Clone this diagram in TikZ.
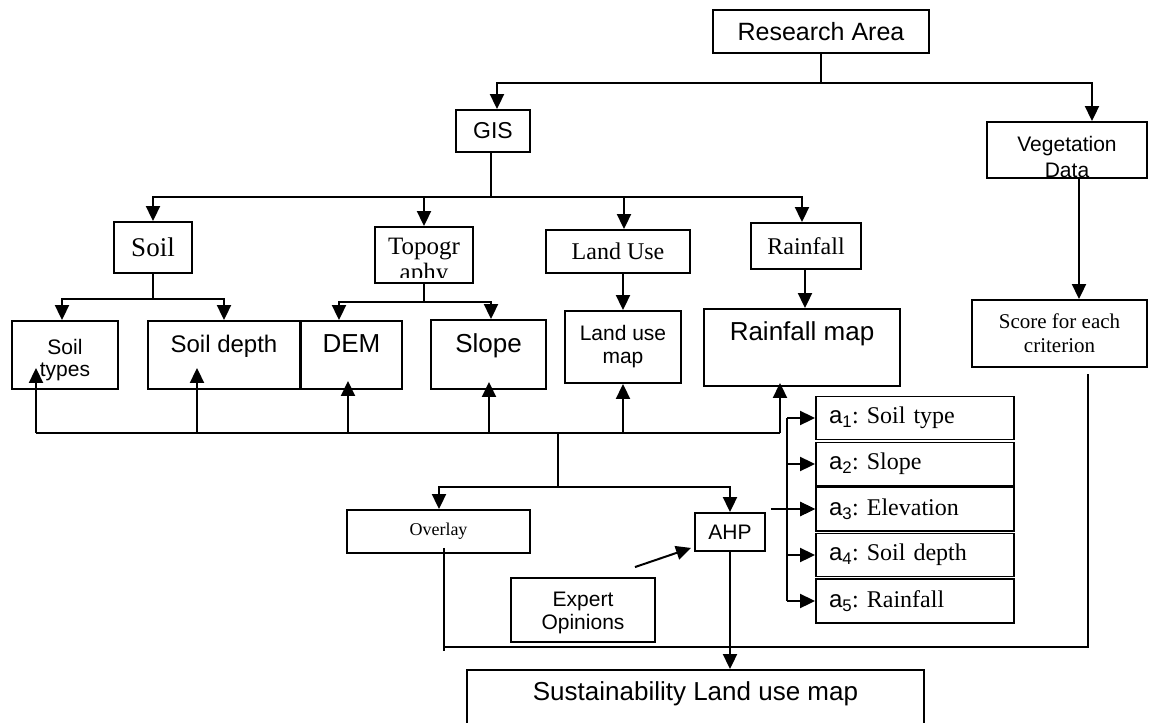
\documentclass[tikz,border=0pt]{standalone}
\usepackage{fontspec}
\setmainfont{Liberation Serif}
\setsansfont{Liberation Sans}
\usetikzlibrary{arrows.meta,calc}
\newcommand\myfs[2]{\fontsize{#1}{#2}\selectfont}
\frenchspacing
\begin{document}
\begin{tikzpicture}[x=1pt,y=-1pt,
  box/.style={draw,line width=1.9pt,inner sep=0pt,align=center},
  ln/.style={line width=2pt},
  arr/.style={line width=2pt,-{Triangle[length=15pt,width=14pt]}},
  abox/.style={box,text width=172pt,inner xsep=13pt,minimum height=43pt,align=left,font=\rmfamily\myfs{24}{26}},
  inner/.style={draw=none,fill=none,inner sep=0pt,align=center}]
\useasboundingbox (0,0) rectangle (1149,723);

% ---------- nodes ----------
\node[box,minimum width=216pt,minimum height=43pt,font=\sffamily\myfs{25}{28}] (RA) at (821,31.5) {Research Area};
\node[box,minimum width=74pt,minimum height=42pt,font=\sffamily\myfs{23}{26}] (GIS) at (493,131) {GIS};
\node[box,minimum width=160pt,minimum height=56pt,path picture={
   \clip ($(path picture bounding box.north west)$) rectangle ($(path picture bounding box.south east)+(0,-1)$);
   \node[inner,font=\sffamily\myfs{21}{26}] at ($(path picture bounding box.center)+(0,7)$) {Vegetation\\Data};}] (Veg) at (1067,150) {};

\node[box,minimum width=78pt,minimum height=51pt,font=\rmfamily\myfs{27}{30}] (Soil) at (153,247.5) {Soil};
\node[box,minimum width=98pt,minimum height=56pt,path picture={
   \clip ($(path picture bounding box.north west)$) rectangle ($(path picture bounding box.south east)+(0,-6)$);
   \node[inner,font=\rmfamily\myfs{25}{26}] at ($(path picture bounding box.center)+(0,7)$) {Topogr\\aphy};}] (Topo) at (424,255) {};
\node[box,minimum width=144pt,minimum height=43pt,font=\rmfamily\myfs{24}{26}] (LandUse) at (618,251.5) {Land Use};
\node[box,minimum width=110pt,minimum height=46pt,font=\rmfamily\myfs{24}{26}] (Rainfall) at (806,246) {Rainfall};

\node[box,minimum width=106pt,font=\sffamily\myfs{21}{22},text height=55pt,text depth=13pt] (SoilTypes) at (65,355) {Soil\\types};
\node[box,minimum width=152pt,text height=31pt,text depth=37pt,font=\sffamily\myfs{24}{26}] (SoilDepth) at (224,355) {Soil depth};
\node[box,minimum width=101pt,text height=31pt,text depth=37pt,font=\sffamily\myfs{26}{28}] (DEM) at (351.5,355) {DEM};
\node[box,minimum width=115pt,text height=32pt,text depth=37pt,font=\sffamily\myfs{26}{28}] (Slope) at (488.5,354.5) {Slope};
\node[box,minimum width=116pt,minimum height=72pt,font=\sffamily\myfs{21}{23}] (LUmap) at (623,347) {Land use\\map};
\node[box,minimum width=196pt,text height=31pt,text depth=46pt,font=\sffamily\myfs{26}{28}] (Rmap) at (802,347.5) {Rainfall map};
\node[box,minimum width=175pt,minimum height=67pt,font=\rmfamily\myfs{21}{24}] (Score) at (1059.5,333.5) {Score for each\\criterion};

\node[abox] (a1) at (915,418) {{\sffamily a\textsubscript{1}}: Soil type};
\node[abox] (a2) at (915,464) {{\sffamily a\textsubscript{2}}: Slope};
\node[abox,minimum height=44pt] (a3) at (915,509) {{\sffamily a\textsubscript{3}}: Elevation};
\node[abox] (a4) at (915,555) {{\sffamily a\textsubscript{4}}: Soil depth};
\node[abox,minimum height=44pt] (a5) at (915,601) {{\sffamily a\textsubscript{5}}: Rainfall};

\node[box,minimum width=183pt,minimum height=43pt,font=\rmfamily\myfs{18}{20}] (Overlay) at (438.5,531.5) {Overlay};
\node[box,minimum width=70pt,minimum height=38pt,font=\sffamily\myfs{21}{23}] (AHP) at (730,532) {AHP};
\node[box,minimum width=144pt,minimum height=64pt,path picture={
   \clip ($(path picture bounding box.north west)$) rectangle ($(path picture bounding box.south east)+(0,-9)$);
   \node[inner,font=\sffamily\myfs{21}{23}] at ($(path picture bounding box.center)+(0,3)$) {Expert\\Opinions};}] (Expert) at (583,610) {};
\node[box,minimum width=457pt,text height=30pt,text depth=40pt,font=\sffamily\myfs{26}{28}] (Sust) at (695.5,705) {Sustainability Land use map};

% ---------- connectors ----------
\coordinate (j1) at (821,83);
\draw[ln] (RA.south) -- (RA.south |- j1);
\draw[arr] (RA.south |- j1) -| ($(GIS.north)+(4,0)$);
\draw[arr] (RA.south |- j1) -| ($(Veg.north)+(25,0)$);

\coordinate (j2) at (491,197);
\draw[ln] ($(GIS.south)+(-2,0)$) -- ($(GIS.south |- j2)+(-2,0)$);
\draw[arr] ($(GIS.south |- j2)+(-2,0)$) -| (Soil.north);
\draw[arr] ($(GIS.south |- j2)+(-2,0)$) -| (Topo.north);
\draw[arr] ($(GIS.south |- j2)+(-2,0)$) -| ($(LandUse.north)+(6,0)$);
\draw[arr] ($(GIS.south |- j2)+(-2,0)$) -| ($(Rainfall.north)+(-4,0)$);

\coordinate (js) at (153,299);
\draw[ln] (Soil.south) -- (Soil.south |- js);
\draw[arr] (Soil.south |- js) -| ($(SoilTypes.north)+(-3,0)$);
\draw[arr] (Soil.south |- js) -| (SoilDepth.north);

\coordinate (jt) at (425,302);
\draw[ln] (Topo.south) -- (Topo.south |- jt);
\draw[arr] (Topo.south |- jt) -| ($(DEM.north)+(-12.5,0)$);
\draw[arr] (Topo.south |- jt) -| ($(Slope.north)+(2.5,0)$);

\draw[arr] (LUmap.north |- LandUse.south) -- (LUmap.north);
\draw[arr] ($(Rainfall.south)+(-1,0)$) -- ($(Rainfall.south |- Rmap.north)+(-1,0)$);
\draw[arr] ($(Veg.south)+(12,0)$) -- ($(Veg.south |- Score.north)+(12,0)$);

\coordinate (j3) at (558,433);
\coordinate (tST) at ($(SoilTypes.south)+(-29,-22)$);
\coordinate (tSD) at ($(SoilDepth.south)+(-27,-22)$);
\coordinate (tDE) at ($(DEM.south)+(-3.5,-9)$);
\coordinate (tSL) at ($(Slope.south)+(0.5,-8)$);
\coordinate (tLU) at (LUmap.south);
\coordinate (tRM) at ($(Rmap.south)+(-22,-4)$);
\draw[ln] (tST |- j3) -- (tRM |- j3);
\foreach \t in {tST,tSD,tDE,tSL,tLU,tRM} \draw[arr] (\t |- j3) -- (\t);

\coordinate (j4) at (558,487);
\draw[ln] (j3) -- (j4);
\draw[arr] (j4) -| ($(Overlay.north)+(0.5,0)$);
\draw[arr] (j4) -| (AHP.north);

\coordinate (sp) at (787,0);
\draw[ln] (sp |- a1) -- (sp |- a5);
\foreach \n in {a1,a2,a3,a4,a5} \draw[arr] (sp |- \n) -- (\n.west);
\draw[arr] ($(AHP.east |- a3)+(5,0)$) -- (a3.west);

\draw[arr] ($(Expert.north)+(52,-10)$) -- ($(AHP.south west)+(-3,-4)$);
\draw[arr] (AHP.south) -- (AHP.south |- Sust.north);

\coordinate (j5) at (1088,647);
\draw[ln] ($(Overlay.south)+(5.5,-6)$) -- ($(Overlay.south |- j5)+(5.5,4)$);
\draw[ln] ($(Overlay.south |- j5)+(5.5,0)$) -- (j5) -- ($(Score.south)+(28.5,6)$);
\end{tikzpicture}
\end{document}
